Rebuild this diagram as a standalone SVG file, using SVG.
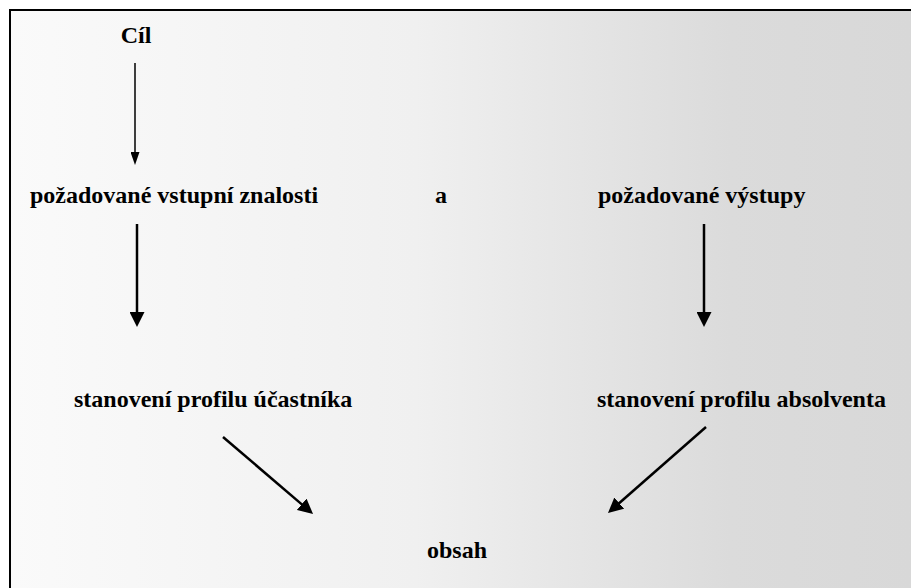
<svg xmlns="http://www.w3.org/2000/svg" width="911" height="588" viewBox="0 0 911 588">
<style>
text{font-family:'Liberation Serif','Times New Roman',Times,serif;font-weight:700;font-size:24px;fill:#000}
.thin{stroke:#000;stroke-width:1.5;fill:none}
.thick{stroke:#000;stroke-width:2.5;fill:none}
</style>
<defs>
<linearGradient id="bg" gradientUnits="userSpaceOnUse" x1="10" y1="0" x2="911" y2="0">
<stop offset="0" stop-color="#fafafa"/>
<stop offset="0.45" stop-color="#f0f0f0"/>
<stop offset="0.8" stop-color="#dbdbdb"/>
<stop offset="1" stop-color="#d8d8d8"/>
</linearGradient>
<marker id="hs" markerUnits="userSpaceOnUse" viewBox="0 0 13 9" refX="1" refY="4.5" markerWidth="13" markerHeight="9" orient="auto">
<path d="M0,0 L13,4.5 L0,9 z" fill="#000"/>
</marker>
<marker id="hl" markerUnits="userSpaceOnUse" viewBox="0 0 15 15" refX="1" refY="7.5" markerWidth="15" markerHeight="15" orient="auto">
<path d="M0,0 L15,7.5 L0,15 z" fill="#000"/>
</marker>
</defs>
<rect x="0" y="0" width="911" height="588" fill="#ffffff"/>
<rect x="10" y="10" width="920" height="600" fill="url(#bg)" stroke="#000" stroke-width="2"/>
<g id="n-cil"><text font-family="Liberation Serif" x="136" y="43" text-anchor="middle">Cíl</text></g>
<g id="n-vstupni"><text font-family="Liberation Serif" x="30" y="203">požadované vstupní znalosti</text></g>
<g id="n-a"><text font-family="Liberation Serif" x="441" y="203" text-anchor="middle">a</text></g>
<g id="n-vystupy"><text font-family="Liberation Serif" x="598" y="203">požadované výstupy</text></g>
<g id="n-ucastnik"><text font-family="Liberation Serif" x="74" y="407">stanovení profilu účastníka</text></g>
<g id="n-absolvent"><text font-family="Liberation Serif" x="597" y="407">stanovení profilu absolventa</text></g>
<g id="n-obsah"><text font-family="Liberation Serif" x="427" y="558">obsah</text></g>
<g id="connectors">
<line class="thin" x1="135" y1="63" x2="135" y2="153" marker-end="url(#hs)"/>
<line class="thick" x1="137" y1="224" x2="137" y2="313" marker-end="url(#hl)"/>
<line class="thick" x1="704" y1="224" x2="704" y2="313" marker-end="url(#hl)"/>
<line class="thick" x1="223" y1="437" x2="302.4" y2="504.9" marker-end="url(#hl)"/>
<line class="thick" x1="706" y1="427" x2="618.5" y2="503.8" marker-end="url(#hl)"/>
</g>
</svg>
